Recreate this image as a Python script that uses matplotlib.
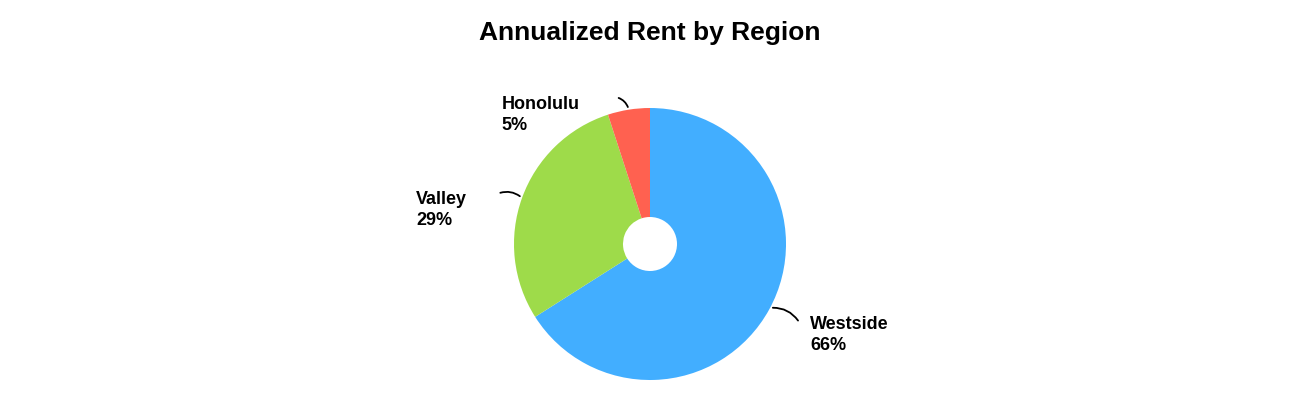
import matplotlib
matplotlib.use("Agg")
import matplotlib.pyplot as plt
import numpy as np

regions = ["Westside", "Valley", "Honolulu"]
shares = [66, 29, 5]
colors = ["#42AEFF", "#9EDB4A", "#FF6150"]

fig = plt.figure(figsize=(13, 4.2), dpi=100)
fig.text(0.5, 1 - 33/420, "Annualized Rent by Region", ha="center", va="center",
         fontsize=19, fontweight="bold", family="Liberation Sans")
R = 136
ax = fig.add_axes([0.5 - R/1300, (1 - 244/420) - R/420, 2*R/1300, 2*R/420])
wedges, _ = ax.pie(shares, colors=colors, startangle=90, counterclock=False,
                   radius=1, wedgeprops=dict(width=1 - 27/136, linewidth=0))
ax.set_xlim(-1, 1); ax.set_ylim(-1, 1); ax.set_aspect("equal")
ax.axis("off")

label_pos = {"Westside": (1.18, -0.67), "Valley": (-1.72, 0.25), "Honolulu": (-1.09, 0.95)}
line_end = {"Westside": (1.10, -0.58), "Valley": (-1.12, 0.37), "Honolulu": (-0.25, 1.08)}
for w, name, s in zip(wedges, regions, shares):
    ang = np.deg2rad((w.theta1 + w.theta2) / 2)
    if name == "Westside":
        ang = np.deg2rad(-28)
    edge = (np.cos(ang) * 1.0, np.sin(ang) * 1.0)
    ax.annotate("", xy=edge, xytext=line_end[name],
                arrowprops=dict(arrowstyle="-", color="black", lw=1.3,
                                connectionstyle="arc3,rad=-0.3" if name != "Westside" else "arc3,rad=0.3"),
                annotation_clip=False)
    x, y = label_pos[name]
    ax.text(x, y, f"{name}\n{s}%", ha="left", va="center", fontsize=13,
            fontweight="bold", family="Liberation Sans", linespacing=1.3, clip_on=False)

fig.savefig("out.png", dpi=100)
